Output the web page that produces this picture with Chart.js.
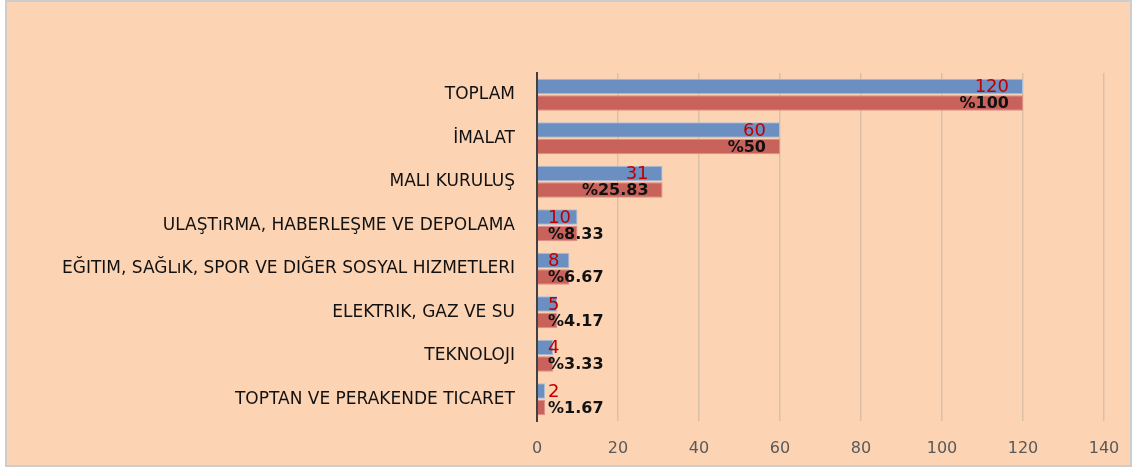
<!DOCTYPE html>
<html>
<head>
<meta charset="utf-8">
<script src="https://cdn.jsdelivr.net/npm/chart.js@4.4.1/dist/chart.umd.min.js"></script>
<style>
  body { margin: 0; background: #fff; }
  #box {
    position: absolute; left: 5px; top: 0; width: 1127px; height: 467px;
    box-sizing: border-box; border: 2px solid #cdcdcd; background: #fcd4b4;
  }
  #box canvas { display: block; }
</style>
</head>
<body>
<div id="box"><canvas id="sektor" width="1123" height="463"></canvas></div>
<script>
const sectors = [
  "TOPLAM",
  "İMALAT",
  "MALI KURULUŞ",
  "ULAŞTıRMA, HABERLEŞME VE DEPOLAMA",
  "EĞITIM, SAĞLıK, SPOR VE DIĞER SOSYAL HIZMETLERI",
  "ELEKTRIK, GAZ VE SU",
  "TEKNOLOJI",
  "TOPTAN VE PERAKENDE TICARET"
];
const counts = [120, 60, 31, 10, 8, 5, 4, 2];
const percentLabels = ["%100", "%50", "%25.83", "%8.33", "%6.67", "%4.17", "%3.33", "%1.67"];
const xTicks = [0, 20, 40, 60, 80, 100, 120, 140];

const fontFamily = "'DejaVu Sans', sans-serif";

// labels like excel "inside end", pushed right when the bar is too short
const barLabels = {
  id: 'barLabels',
  afterDatasetsDraw(chart) {
    const ctx = chart.ctx;
    const left = chart.chartArea.left;
    chart.data.datasets.forEach((ds, i) => {
      const meta = chart.getDatasetMeta(i);
      meta.data.forEach((bar, j) => {
        const text = i === 0 ? String(counts[j]) : percentLabels[j];
        ctx.save();
        ctx.font = i === 0 ? '18px ' + fontFamily : 'bold 16px ' + fontFamily;
        ctx.fillStyle = i === 0 ? '#c00000' : '#111';
        ctx.textAlign = 'right';
        ctx.textBaseline = 'middle';
        const w = ctx.measureText(text).width;
        const x = Math.max(bar.x - 14, left + 11 + w);
        ctx.fillText(text, x, bar.y + 1);
        ctx.restore();
      });
    });
  }
};

new Chart(document.getElementById('sektor'), {
  type: 'bar',
  plugins: [barLabels],
  data: {
    labels: sectors,
    datasets: [{
      data: counts,
      backgroundColor: '#6a8fc0',
      borderColor: '#a9bfdd',
      borderWidth: 1
    }, {
      data: counts,
      backgroundColor: '#c8625b',
      borderColor: '#dc8e84',
      borderWidth: 1
    }]
  },
  options: {
    indexAxis: 'y',
    responsive: false,
    animation: false,
    categoryPercentage: 0.76,
    barPercentage: 0.94,
    layout: { padding: { top: 71, right: 26, bottom: 0, left: 0 } },
    plugins: { legend: { display: false }, tooltip: { enabled: false } },
    scales: {
      x: {
        min: 0, max: 140,
        afterBuildTicks(scale) { scale.ticks = xTicks.map(v => ({ value: v })); },
        afterFit(scale) { scale.height = 44; scale.paddingRight = 0; scale.paddingLeft = 0; },
        grid: { color: '#dbc0a8', lineWidth: 1.5, tickLength: 0 },
        border: { display: false },
        ticks: { color: '#595959', font: { family: fontFamily, size: 16 }, padding: 18 }
      },
      y: {
        afterFit(scale) { scale.width = 530; },
        grid: { display: false },
        border: { display: true, color: '#404040', width: 2 },
        ticks: { color: '#111', font: { family: fontFamily, size: 17 }, padding: 14 }
      }
    }
  }
});
</script>
</body>
</html>
